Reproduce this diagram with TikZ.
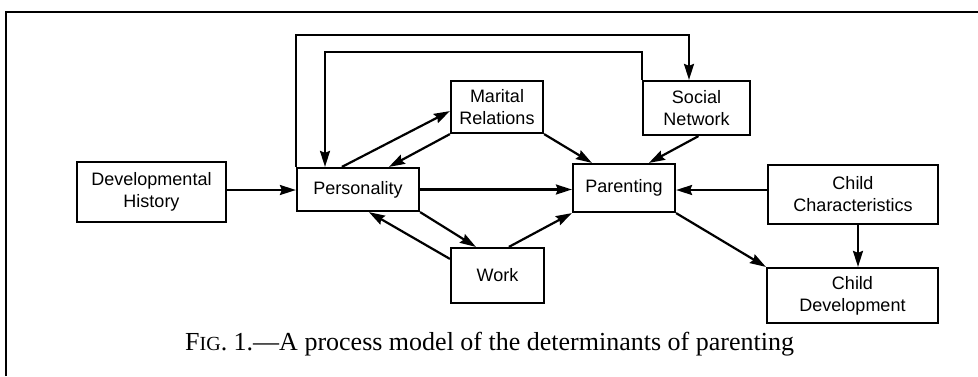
\documentclass[tikz,border=0pt]{standalone}
\usepackage{fontspec}
\setmainfont{Liberation Serif}
\newfontfamily\boxfont{Liberation Sans}
\usetikzlibrary{arrows.meta,calc}
\begin{document}
\begin{tikzpicture}[x=1pt,y=-1pt,
  box/.style={draw,line width=2.2pt,align=center,inner sep=0pt,
    font=\boxfont\fontsize{18}{22}\selectfont},
  arr/.style={line width=2.2pt,-{Stealth[length=16pt,width=10pt,inset=2pt]}}]
  \useasboundingbox (0,0) rectangle (978,376);
  % open page frame
  \draw[line width=2pt] (6,376) -- (6,12) -- (978,12);

  % boxes
  \node[box,minimum width=149pt,minimum height=60pt] (dev)  at (151.5,192) {Developmental\\History};
  \node[box,minimum width=122pt,minimum height=43pt] (pers) at (358,189.5) {Personality};
  \node[box,minimum width=92pt, minimum height=52pt] (mar)  at (497,107)   {Marital\\Relations};
  \node[box,minimum width=107pt,minimum height=54pt] (soc)  at (696.5,108) {Social\\Network};
  \node[box,minimum width=102pt,minimum height=48pt] (par)  at (624,188)   {Parenting};
  \node[box,minimum width=170pt,minimum height=59pt] (cc)   at (853,194.5) {Child\\Characteristics};
  \node[box,minimum width=171pt,minimum height=55pt] (cd)   at (852.5,295.5) {Child\\Development};
  \node[box,minimum width=93pt, minimum height=55pt] (work) at (497.5,275.5) {Work};

  % feedback loops over the top
  \coordinate (topA) at (689,35);
  \coordinate (topB) at (325,52);
  \draw[arr] (pers.north west) |- (topA) -- (topA |- soc.north);
  \draw[arr] (soc.north west) |- (topB) -- (topB |- pers.north);

  % horizontal links
  \draw[arr] (dev.east |- 0,190) -- (pers.west |- 0,190);
  \draw[arr] (pers.east) -- (pers.east -| par.west);
  \draw[arr] (cc.west |- 0,190) -- (par.east |- 0,190);

  % marital relations
  \draw[arr] ($(pers.north west)+(46,0)$) -- ($(mar.south west)+(0,-23)$);
  \draw[arr] (mar.south west) -- ($(pers.north west)+(93,0)$);
  \draw[arr] (mar.south east) -- ($(par.north west)+(20,0)$);

  % social network
  \draw[arr] ($(soc.south)+(2,0)$) -- ($(par.north west)+(77,0)$);

  % work
  \draw[arr] (pers.south east) -- ($(work.north west)+(26,0)$);
  \draw[arr] ($(work.north west)+(0,12)$) -- ($(pers.south west)+(73,0)$);
  \draw[arr] ($(work.north west)+(59,0)$) -- (par.south west);

  % child
  \draw[arr] (cc.south -| 858,0) -- (cd.north -| 858,0);
  \draw[arr] (par.south east) -- (cd.north west);

  % caption
  \node[anchor=base west,inner sep=0pt,font=\fontsize{26}{28}\selectfont] (cap) at (185,350)
    {F{\fontsize{20}{20}\selectfont IG}. 1.—A process model of the determinants of parenting};
\end{tikzpicture}
\end{document}
